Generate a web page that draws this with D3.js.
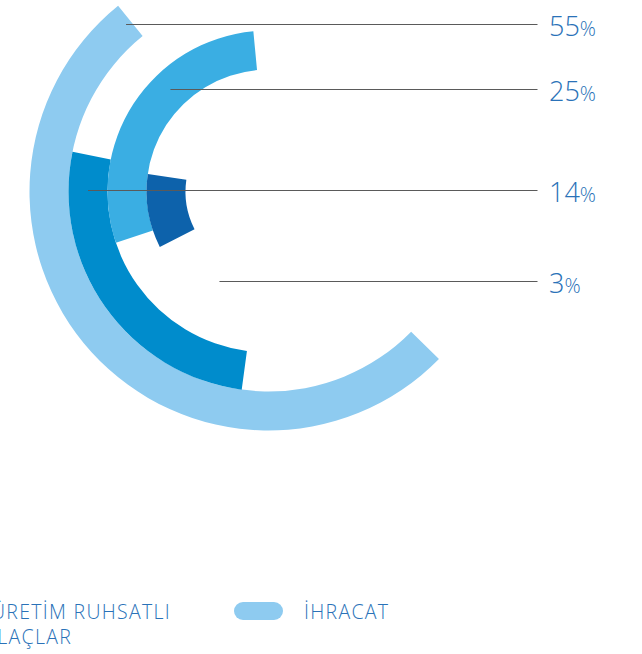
<!DOCTYPE html>
<html>
<head>
<meta charset="utf-8">
<script src="https://cdn.jsdelivr.net/npm/d3@7"></script>
<style>
    body { margin: 0; background: #fff; }
    svg { display: block; font-family: "Open Sans", sans-serif; }
</style>
</head>
<body>
<svg id="chart" width="642" height="654"></svg>
<script>
// rings, outer -> inner
const shares = [55, 14, 25, 3];
const ringColors = ["#8ecbf0", "#008ccc", "#3aaee3", "#0d62ab"];
// arc ends (degrees, clockwise from 12 o'clock)
const arcStart = [-225.5, -172.3, -108.6, -117];
const arcEnd = [-39, -78.5, -5.4, -81.8];

// label rows, top -> bottom
const labelShares = [55, 25, 14, 3];
const labelRows = [24.5, 89.5, 190.5, 281.5];

const legendLabels = [["ÜRETİM RUHSATLI", "İLAÇLAR"], ["İHRACAT"]];
const legendColors = ["#3aaee3", "#8ecbf0"];

let svg = d3.select("#chart");
let center = {x: 268.5, y: 191.5};
let textColor = "#2a72b8";

let ring = d3.scaleBand()
    .domain(d3.range(shares.length))
    .range([239, 83])
    .paddingInner(0);
let angle = d3.scaleLinear().domain([0, 360]).range([0, 2 * Math.PI]);

let rings = shares.map((v, i) => ({
    i: i,
    value: v,
    color: ringColors[i],
    start: arcStart[i],
    end: arcEnd[i]
}));

let arc = d3.arc()
    .innerRadius(d => ring(d.i))
    .outerRadius(d => ring(d.i) + ring.bandwidth())
    .startAngle(d => angle(d.start))
    .endAngle(d => angle(d.end));

let chart = svg.append("g")
    .attr("transform", "translate(" + center.x + "," + center.y + ")");

chart.selectAll(".ring")
    .data(rings)
    .enter().append("path")
    .attr("class", "ring")
    .attr("d", arc)
    .attr("fill", d => d.color);

// leader lines start inside the ring that carries the value
let labelX = 549;
let lineEnd = 537.5;
let leaders = svg.append("g").attr("class", "leaders");
labelShares.forEach((v, k) => {
    let d = rings.find(r => r.value === v);
    let r = ring(d.i) + ring.bandwidth() * 0.5;
    let y = labelRows[k];
    let dy = y - center.y;
    let x0 = center.x - Math.sqrt(Math.max(0, r * r - dy * dy));
    leaders.append("line")
        .attr("x1", x0).attr("x2", lineEnd)
        .attr("y1", y).attr("y2", y)
        .attr("stroke", "#5a5a5a")
        .attr("stroke-width", 1.1);
    let t = leaders.append("text")
        .attr("x", labelX)
        .attr("y", y + 11)
        .attr("fill", textColor)
        .attr("font-weight", 300);
    t.append("tspan").attr("font-size", 27).text(v);
    t.append("tspan").attr("font-size", 20).text("%");
});

// legend (last row, first item runs off the left edge)
let legend = svg.append("g").attr("class", "legend");
let legendX = [-9, 304];
legendLabels.forEach((lines, k) => {
    legend.append("rect")
        .attr("x", legendX[k] - 70)
        .attr("y", 602)
        .attr("width", 49)
        .attr("height", 18)
        .attr("rx", 9)
        .attr("fill", legendColors[k]);
    lines.forEach((s, j) => {
        legend.append("text")
            .attr("x", legendX[k])
            .attr("y", 619 + j * 24.5)
            .attr("font-size", 19.5)
            .attr("font-weight", 300)
            .attr("letter-spacing", 1.3)
            .attr("fill", textColor)
            .text(s);
    });
});
</script>
</body>
</html>
